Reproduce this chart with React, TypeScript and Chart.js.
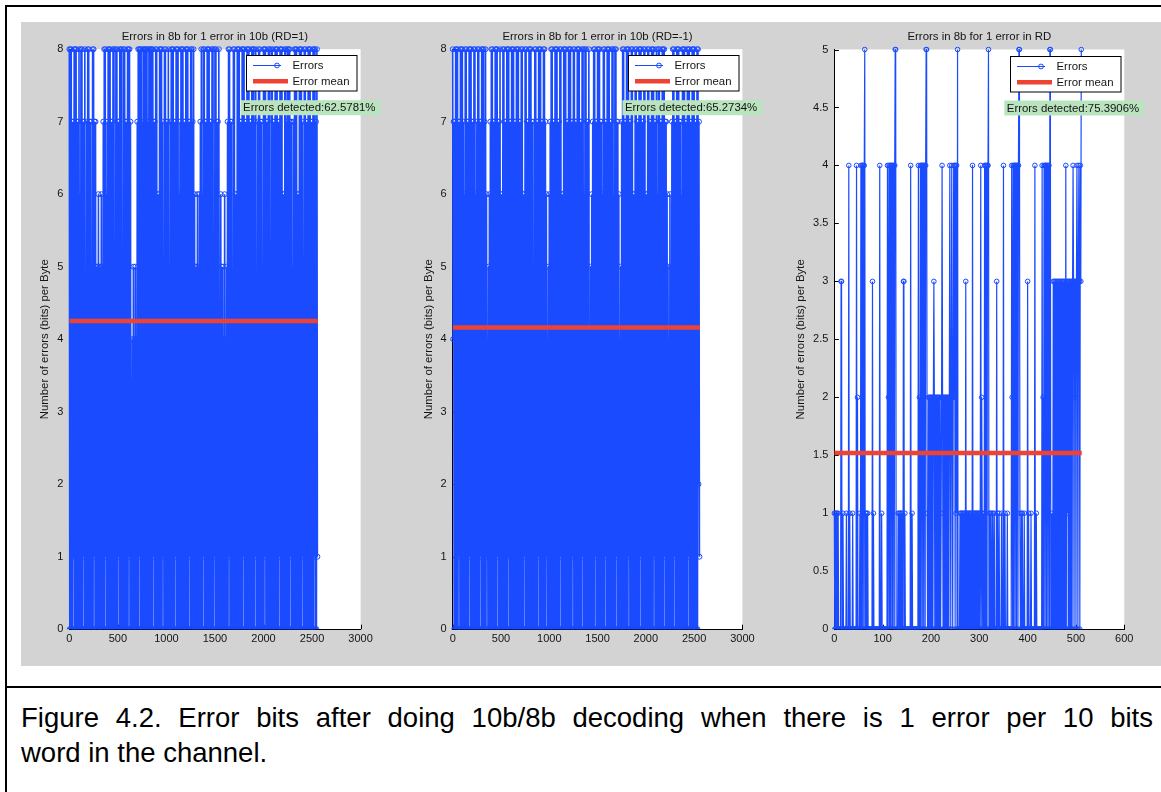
import React, { useEffect, useRef } from 'react';
import { Chart, registerables } from 'chart.js';

Chart.register(...registerables);

const FONT_FAMILY = "'Liberation Sans', Arial, Helvetica, sans-serif";
const BLUE = 'rgb(26,75,255)';
const RED = 'rgb(238,66,50)';
const INK = '#141414';
const NOTE_BG = 'rgb(186,228,190)';

// ---------- texts ----------
const panelTitles = [
  'Errors in 8b for 1 error in 10b (RD=1)',
  'Errors in 8b for 1 error in 10b (RD=-1)',
  'Errors in 8b for 1 error in RD',
];
const detectedNotes = ['Errors detected:62.5781%', 'Errors detected:65.2734%', 'Errors detected:75.3906%'];
const legendLabels = ['Errors', 'Error mean'];
const yAxisLabel = 'Number of errors (bits) per Byte';
const captionLine1 = 'Figure 4.2. Error bits after doing 10b/8b decoding when there is 1 error per 10 bits';
const captionLine2 = 'word in the channel.';

// ---------- axis settings ----------
const xMaxes = [3000, 3000, 600];
const xSteps = [500, 500, 100];
const yMaxes = [8, 8, 5];
const ySteps = [1, 1, 0.5];
const sampleCounts = [2560, 2560, 512];
const errorMeans = [4.25, 4.16, 1.52];
const samplesPerColumn = 10; // panels 1-2: one peak/trough pair read per 10 samples

// ---------- panel 1 (RD=1): per-column peak and trough values ----------
const rd1Peaks = [
  8,8,8,7,7,8,8,8,7,7,8,6,8,8,7,7,8,2,7,8,8,7,7,3,8,8,7,7,5,5,6,5,
  5,6,5,7,8,8,6,7,8,8,8,7,7,8,8,5,8,8,7,7,8,8,8,5,8,8,7,7,8,8,8,7,
  3,4,5,4,5,4,7,8,8,8,8,7,8,8,8,8,8,7,8,8,8,8,8,7,7,8,8,6,6,8,8,8,
  7,5,8,8,7,7,8,5,7,8,8,8,7,7,8,8,8,6,7,8,8,8,7,7,8,8,8,7,7,8,8,7,
  8,6,5,5,6,5,6,7,8,6,8,8,7,7,8,8,8,7,7,8,8,4,8,8,7,7,8,4,6,5,5,4,
  6,4,5,7,8,8,7,7,4,8,8,6,6,8,8,8,7,7,8,8,8,7,7,8,8,8,7,7,8,8,8,7,
  8,4,7,8,8,7,7,5,8,8,8,7,7,8,8,4,8,8,7,7,8,8,8,7,7,8,8,8,6,6,8,8,
  7,8,8,8,7,7,5,7,8,8,8,6,6,8,8,8,7,4,8,8,7,7,8,8,8,7,7,8,8,8,7,8,
];
const rd1Troughs = [
  0,0,0,0,1,0,0,0,0,0,0,0,0,0,1,0,0,0,0,0,0,0,0,0,0,1,0,0,0,0,0,0,
  0,0,0,0,0,1,0,0,0,0,0,0,0,0,0,0,0,0,1,0,0,0,0,0,0,0,0,0,0,1,0,0,
  0,0,0,0,0,0,0,0,1,0,0,0,0,0,0,0,0,0,0,0,0,0,1,0,0,0,0,0,0,0,0,0,
  1,0,0,0,0,0,0,0,0,0,0,0,0,1,0,0,0,0,0,0,0,0,0,0,0,0,0,1,0,0,0,0,
  0,0,0,0,0,0,0,0,0,0,1,0,0,0,0,0,0,0,0,0,0,1,0,0,0,0,0,0,0,0,0,0,
  0,0,0,0,1,0,0,0,0,0,0,0,0,0,0,0,0,0,0,1,0,0,0,0,0,0,0,0,0,0,0,1,
  0,0,0,0,0,0,0,0,0,1,0,0,0,0,0,0,0,0,0,0,0,0,0,0,1,0,0,0,0,0,0,0,
  0,0,0,1,0,0,0,0,0,0,0,0,0,0,0,0,1,0,0,0,0,0,0,0,0,0,0,0,1,0,0,1,
];

// ---------- panel 2 (RD=-1) ----------
const rdm1Peaks = [
  8,7,7,8,8,8,7,7,8,8,8,7,6,8,8,7,7,8,8,8,7,7,8,8,6,7,8,8,7,7,8,8,
  8,7,8,6,4,5,6,7,8,8,7,7,8,8,8,7,7,8,6,6,8,8,7,7,8,8,8,7,7,8,8,8,
  7,7,8,8,8,7,7,8,8,6,6,8,8,7,7,8,8,8,7,7,5,8,8,7,7,8,8,8,7,7,8,8,
  7,6,4,5,6,7,8,8,7,7,8,8,8,7,7,8,8,6,6,8,8,8,7,7,8,8,8,7,7,8,8,7,
  7,8,8,8,7,7,8,8,6,8,8,7,7,8,4,5,6,7,8,8,7,7,8,8,8,7,7,6,8,8,7,7,
  8,8,8,7,7,8,8,6,8,8,7,7,6,4,5,7,8,8,7,7,8,8,8,7,7,8,8,6,6,8,8,7,
  7,8,8,8,7,7,8,8,6,6,8,8,7,7,8,8,8,7,7,8,6,8,8,7,7,8,8,8,7,7,6,5,
  4,6,5,7,8,8,7,7,8,8,8,7,7,6,8,8,8,7,7,8,8,8,7,7,8,8,8,7,7,8,8,7,
];
const rdm1Troughs = [
  4,0,0,0,0,0,1,0,0,0,0,0,0,0,0,0,0,1,0,0,0,0,0,0,0,0,0,0,1,0,0,0,
  0,0,0,1,0,0,0,0,0,0,0,0,0,0,1,0,0,0,0,0,0,0,0,0,0,1,0,0,0,0,0,0,
  0,0,0,0,0,0,0,0,0,0,1,0,0,0,0,0,0,0,0,0,0,0,0,0,1,0,0,0,0,0,0,0,
  0,1,0,0,0,0,0,0,0,0,0,0,0,0,0,1,0,0,0,0,0,0,0,0,0,0,0,0,1,0,0,0,
  0,0,0,0,0,0,1,0,0,0,0,0,0,0,0,0,0,0,0,1,0,0,0,0,0,0,0,0,0,0,1,0,
  0,0,0,0,0,0,0,0,0,1,0,0,0,0,0,0,0,0,0,0,0,0,1,0,0,0,0,0,0,0,0,0,
  0,0,1,0,0,0,0,0,0,0,0,0,0,0,0,0,1,0,0,0,0,0,0,0,0,0,0,1,0,0,0,0,
  0,0,0,0,0,1,0,0,0,0,0,0,0,0,0,0,0,0,0,0,1,0,0,0,0,0,0,0,0,0,2,1,
];

// ---------- panel 3 (1 error in RD): 512 samples ----------
const rdErrors = [
  1,0,1,0,1,0,1,0,1,0,0,0,0,0,3,3,0,0,1,0,0,0,0,0,0,1,0,0,0,0,4,0,
  1,0,0,0,0,0,1,0,0,0,0,0,0,0,4,0,2,0,0,0,0,1,0,4,0,4,0,4,4,0,4,5,
  0,1,0,1,0,1,0,0,0,0,0,0,0,0,0,3,0,1,0,0,0,0,0,0,0,0,0,0,0,0,4,0,
  0,0,1,0,0,0,0,0,0,0,0,0,0,0,4,0,2,4,0,4,0,4,4,0,4,0,4,4,0,4,5,5,
  0,0,0,0,1,0,1,0,1,0,1,0,1,0,0,3,3,0,1,0,0,0,0,0,0,0,0,0,0,0,4,0,
  0,1,0,0,0,0,0,0,0,0,0,0,0,0,4,0,2,0,4,0,4,4,0,4,4,0,4,4,0,4,5,5,
  1,0,0,2,0,2,0,2,0,2,0,2,0,2,3,2,0,2,0,2,0,2,0,2,0,2,0,2,0,1,2,4,
  2,0,2,0,2,0,2,0,2,0,2,0,2,0,2,4,2,0,2,4,2,0,2,4,2,4,0,4,1,4,0,5,
  0,0,0,0,1,0,1,0,1,0,1,0,1,0,1,0,3,0,1,0,1,0,1,0,1,0,1,0,1,0,4,0,
  1,0,1,0,1,0,1,0,1,0,1,0,1,0,1,4,0,2,1,0,1,0,0,4,0,4,0,4,0,4,4,5,
  0,1,0,1,0,0,1,0,1,0,0,1,0,0,0,0,3,0,1,0,0,1,0,0,0,0,1,0,0,0,4,0,
  0,1,0,0,0,0,1,0,0,0,0,0,0,0,0,4,2,0,4,0,4,4,0,4,4,0,4,4,0,4,5,5,
  1,0,0,1,0,1,0,0,0,1,0,0,0,0,0,0,3,0,1,0,0,0,0,1,0,0,0,0,0,0,0,4,
  0,0,1,0,0,0,0,0,0,0,0,0,0,0,4,0,2,0,4,4,0,4,4,0,4,4,0,4,4,0,5,5,
  0,0,1,0,0,3,0,3,0,3,0,3,0,3,0,3,0,3,0,3,0,3,0,3,0,3,0,3,0,3,0,4,
  0,3,1,3,0,3,0,3,0,3,0,3,0,3,4,3,0,3,2,3,0,3,4,3,0,3,4,3,0,4,3,5,
];

// ---------- layout (page pixels) ----------
const GRAY_TOP = 22;
const GRAY_HEIGHT = 644;
const X_AXIS_H = 20;
const canvasLefts = [21, 405, 790];
const canvasWidths = [384, 385, 371];
const chartLefts = [69.3, 452.7, 834.3];
const chartRights = [360.6, 742.4, 1124.3];
const chartTops = [49.2, 49.2, 49.5];
const chartBottom = 629.2;
const yTitleCenters = [45, 428.5, 801];

type Pt = { x: number; y: number };

function pairedSeries(peaks: number[], troughs: number[]): Pt[] {
  const pts: Pt[] = [];
  for (let i = 0; i < peaks.length; i++) {
    pts.push({ x: i * samplesPerColumn, y: peaks[i] });
    if (i < troughs.length) pts.push({ x: i * samplesPerColumn + samplesPerColumn / 2, y: troughs[i] });
  }
  return pts;
}

const errorSeries: Pt[][] = [
  pairedSeries(rd1Peaks, rd1Troughs),
  pairedSeries(rdm1Peaks, rdm1Troughs),
  rdErrors.map((v, i) => ({ x: i, y: v })),
];

function font(size: number) {
  return `${size}px ${FONT_FAMILY}`;
}

function makeDecor(k: number) {
  return {
    id: 'matlabDecor' + k,
    beforeDraw(chart: any) {
      const { ctx, chartArea: a } = chart;
      ctx.save();
      ctx.fillStyle = '#ffffff';
      ctx.fillRect(a.left, a.top, a.right - a.left, a.bottom - a.top);
      ctx.restore();
    },
    beforeDatasetsDraw(chart: any) {
      const { ctx, chartArea: a, scales } = chart;
      ctx.save();
      ctx.strokeStyle = '#000';
      ctx.lineWidth = 1;
      ctx.beginPath();
      scales.y.ticks.forEach((t: any) => {
        const y = Math.round(scales.y.getPixelForValue(t.value)) + 0.5;
        ctx.moveTo(a.left, y);
        ctx.lineTo(a.left + 4.5, y);
      });
      scales.x.ticks.forEach((t: any) => {
        const x = Math.round(scales.x.getPixelForValue(t.value)) + 0.5;
        ctx.moveTo(x, a.bottom);
        ctx.lineTo(x, a.bottom - 4.5);
      });
      ctx.stroke();
      ctx.restore();
    },
    afterDraw(chart: any) {
      const { ctx, chartArea: a } = chart;
      ctx.save();
      // title
      ctx.fillStyle = INK;
      ctx.font = font(11.4);
      ctx.textAlign = 'center';
      ctx.textBaseline = 'middle';
      ctx.fillText(panelTitles[k], (a.left + a.right) / 2, 36.8 - GRAY_TOP);

      // legend
      const bw = 110.5;
      const bh = 35.5;
      const bx = Math.round(a.right - 4 - bw) + 0.5;
      const by = Math.round(a.top + 6) + 0.5;
      ctx.fillStyle = '#ffffff';
      ctx.fillRect(bx, by, bw, bh);
      ctx.strokeStyle = '#000';
      ctx.lineWidth = 1;
      ctx.strokeRect(bx, by, bw, bh);
      const y1 = by + 10;
      const y2 = by + 25.7;
      ctx.strokeStyle = BLUE;
      ctx.lineWidth = 1;
      ctx.beginPath();
      ctx.moveTo(bx + 6.5, y1);
      ctx.lineTo(bx + 34.5, y1);
      ctx.stroke();
      ctx.beginPath();
      ctx.arc(bx + 30.5, y1, 2.4, 0, Math.PI * 2);
      ctx.stroke();
      ctx.strokeStyle = RED;
      ctx.lineWidth = 4.5;
      ctx.beginPath();
      ctx.moveTo(bx + 6.5, y2);
      ctx.lineTo(bx + 41.5, y2);
      ctx.stroke();
      ctx.fillStyle = INK;
      ctx.font = font(11.4);
      ctx.textAlign = 'left';
      ctx.textBaseline = 'middle';
      ctx.fillText(legendLabels[0], bx + 46, y1 + 0.5);
      ctx.fillText(legendLabels[1], bx + 46, y2 + 0.5);

      // detected note
      const nx = a.right - 120;
      const ny = a.top + 51;
      ctx.fillStyle = NOTE_BG;
      ctx.fillRect(nx, ny, 140, 15);
      ctx.fillStyle = INK;
      ctx.fillText(detectedNotes[k], nx + 2.5, ny + 8);
      ctx.restore();
    },
  };
}

function Panel({ k }: { k: number }) {
  const ref = useRef<HTMLCanvasElement | null>(null);
  useEffect(() => {
    const canvas = ref.current;
    if (!canvas) return;
    const cl = canvasLefts[k];
    const cw = canvasWidths[k];
    const chartTopC = chartTops[k] - GRAY_TOP;
    const chartBottomC = chartBottom - GRAY_TOP;
    const yAxisW = chartLefts[k] - cl;
    const tickFont = { family: FONT_FAMILY, size: 11 };
    const chart = new Chart(canvas, {
      type: 'line',
      data: {
        datasets: [
          {
            label: legendLabels[1],
            data: [
              { x: 0, y: errorMeans[k] },
              { x: sampleCounts[k], y: errorMeans[k] },
            ],
            borderColor: RED,
            borderWidth: 4.5,
            borderCapStyle: 'butt',
            pointRadius: 0,
            order: 0,
          },
          {
            label: legendLabels[0],
            data: errorSeries[k],
            borderColor: BLUE,
            borderWidth: k === 2 ? 1.2 : 1.6,
            tension: 0.000001,
            pointStyle: 'circle',
            pointRadius: k === 2 ? 2.3 : 2.5,
            pointBorderWidth: 1,
            pointBorderColor: BLUE,
            pointBackgroundColor: 'rgba(0,0,0,0)',
            pointHitRadius: 0,
            clip: { left: 3, top: 3, right: 3, bottom: 0 },
            order: 1,
          },
        ] as any,
      },
      options: {
        responsive: false,
        animation: false,
        devicePixelRatio: 1,
        events: [],
        layout: {
          padding: {
            left: 0,
            top: chartTopC,
            right: cw - (chartRights[k] - cl),
            bottom: GRAY_HEIGHT - chartBottomC - X_AXIS_H,
          },
        },
        plugins: {
          legend: { display: false },
          tooltip: { enabled: false },
          title: { display: false },
        },
        scales: {
          x: {
            type: 'linear',
            min: 0,
            max: xMaxes[k],
            ticks: {
              stepSize: xSteps[k],
              autoSkip: false,
              maxRotation: 0,
              padding: 3,
              color: INK,
              font: tickFont,
              callback: (v: any) => String(v),
            },
            grid: { display: false, drawTicks: false },
            border: { display: true, color: '#000', width: 1 },
            afterFit: (s: any) => {
              s.height = X_AXIS_H;
            },
          },
          y: {
            type: 'linear',
            min: 0,
            max: yMaxes[k],
            ticks: {
              stepSize: ySteps[k],
              autoSkip: false,
              padding: 6,
              color: INK,
              font: tickFont,
              callback: (v: any) => String(v),
            },
            grid: { display: false, drawTicks: false },
            border: { display: true, color: '#000', width: 1 },
            title: {
              display: true,
              text: yAxisLabel,
              color: INK,
              font: { family: FONT_FAMILY, size: 11.4 },
              padding: { top: yTitleCenters[k] - cl - 6.84, bottom: 0 },
            },
            afterFit: (s: any) => {
              s.width = yAxisW;
            },
          },
        },
      } as any,
      plugins: [makeDecor(k)],
    });
    return () => chart.destroy();
  }, [k]);
  return (
    <canvas
      ref={ref}
      width={canvasWidths[k]}
      height={GRAY_HEIGHT}
      style={{
        position: 'absolute',
        left: canvasLefts[k],
        top: GRAY_TOP,
        width: canvasWidths[k],
        height: GRAY_HEIGHT,
      }}
    />
  );
}

export default function App() {
  return (
    <div
      style={{
        position: 'absolute',
        left: 0,
        top: 0,
        width: 1161,
        height: 792,
        overflow: 'hidden',
        background: '#ffffff',
        fontFamily: FONT_FAMILY,
      }}
    >
      <div
        style={{
          position: 'absolute',
          left: 5,
          top: 5,
          width: 1200,
          height: 900,
          borderLeft: '2px solid #000',
          borderTop: '2px solid #000',
        }}
      />
      <div
        style={{
          position: 'absolute',
          left: 21,
          top: GRAY_TOP,
          width: 1140,
          height: GRAY_HEIGHT,
          background: '#d3d3d3',
        }}
      />
      {[0, 1, 2].map((k) => (
        <Panel key={k} k={k} />
      ))}
      <div
        style={{
          position: 'absolute',
          left: 5,
          top: 686,
          width: 1200,
          height: 2,
          background: '#000',
        }}
      />
      <div
        style={{
          position: 'absolute',
          left: 21,
          top: 700,
          width: 1132,
          fontSize: 27.5,
          lineHeight: '35px',
          color: '#000',
          textAlign: 'justify',
          textAlignLast: 'justify' as any,
        }}
      >
        {captionLine1}
      </div>
      <div
        style={{
          position: 'absolute',
          left: 21,
          top: 735,
          fontSize: 27.5,
          lineHeight: '35px',
          color: '#000',
          whiteSpace: 'nowrap',
        }}
      >
        {captionLine2}
      </div>
    </div>
  );
}
